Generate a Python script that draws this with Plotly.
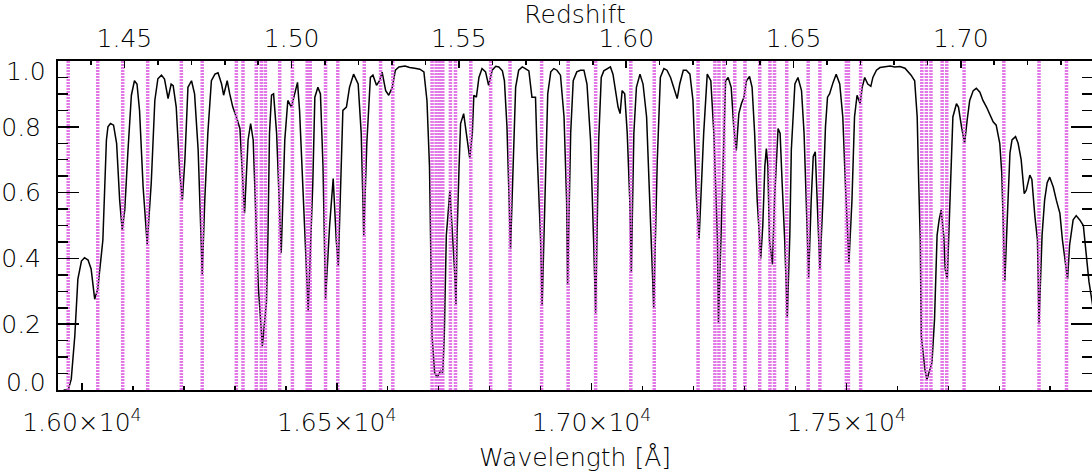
import plotly.graph_objects as go

HALPHA = 6564.61  # rest wavelength used for the redshift axis
LAM_MIN, LAM_MAX = 15953, 17982

wave = [15964, 15973, 15979, 15986, 15992, 15999, 16005, 16012, 16018, 16025, 16031, 16035,
        16041, 16048, 16051, 16056, 16062, 16068, 16074, 16079, 16084, 16090, 16097, 16103,
        16108, 16113, 16120, 16128, 16136, 16143, 16149, 16156, 16159, 16162, 16169, 16175,
        16179, 16185, 16192, 16197, 16202, 16208, 16215, 16221, 16228, 16236, 16241, 16247,
        16254, 16261, 16267, 16274, 16278, 16285, 16290, 16296, 16303, 16310, 16314, 16319,
        16326, 16331, 16336, 16342, 16346, 16354, 16362, 16365, 16368, 16372, 16376, 16382,
        16387, 16391, 16398, 16404, 16411, 16418, 16423, 16427, 16434, 16444, 16453, 16457,
        16463, 16468, 16473, 16478, 16486, 16493, 16499, 16503, 16512, 16519, 16525, 16533,
        16542, 16548, 16553, 16559, 16566, 16571, 16578, 16584, 16589, 16596, 16602, 16609,
        16615, 16622, 16634, 16643, 16653, 16663, 16671, 16677, 16682, 16684, 16687, 16692,
        16697, 16704, 16708, 16711, 16715, 16718, 16722, 16725, 16728, 16731, 16734, 16736,
        16740, 16743, 16749, 16756, 16761, 16766, 16769, 16774, 16779, 16785, 16792, 16798,
        16805, 16812, 16818, 16825, 16829, 16834, 16839, 16841, 16844, 16848, 16851, 16857,
        16864, 16870, 16877, 16883, 16890, 16893, 16900, 16903, 16910, 16914, 16920, 16926,
        16932, 16939, 16946, 16951, 16953, 16959, 16964, 16971, 16978, 16985, 16991, 16998,
        17004, 17008, 17014, 17019, 17024, 17031, 17037, 17042, 17047, 17052, 17056, 17060,
        17065, 17070, 17075, 17078, 17083, 17088, 17095, 17101, 17108, 17114, 17122, 17129,
        17135, 17142, 17148, 17155, 17163, 17168, 17173, 17180, 17186, 17193, 17199, 17206,
        17211, 17215, 17220, 17227, 17234, 17240, 17247, 17249, 17256, 17263, 17268, 17274,
        17279, 17284, 17289, 17294, 17299, 17304, 17310, 17315, 17320, 17325, 17332, 17336,
        17340, 17343, 17346, 17349, 17355, 17359, 17366, 17370, 17374, 17379, 17384, 17389,
        17392, 17399, 17405, 17412, 17417, 17421, 17426, 17431, 17435, 17439, 17443, 17448,
        17454, 17459, 17463, 17467, 17474, 17480, 17487, 17493, 17498, 17502, 17505, 17511,
        17516, 17521, 17527, 17531, 17536, 17542, 17548, 17552, 17559, 17566, 17576, 17586,
        17595, 17605, 17615, 17627, 17634, 17639, 17642, 17645, 17647, 17654, 17658, 17664,
        17668, 17673, 17678, 17682, 17686, 17691, 17694, 17698, 17701, 17705, 17709, 17716,
        17720, 17726, 17732, 17737, 17742, 17749, 17755, 17762, 17768, 17775, 17781, 17788,
        17794, 17801, 17805, 17809, 17811, 17816, 17821, 17825, 17832, 17837, 17843, 17849,
        17853, 17860, 17864, 17870, 17875, 17878, 17884, 17889, 17894, 17899, 17906, 17912,
        17919, 17924, 17929, 17934, 17938, 17945, 17951, 17958, 17965, 17970, 17976, 17984]

trans = [0.00, 0.00, 0.033, 0.165, 0.337, 0.392, 0.402, 0.395, 0.368, 0.276, 0.307, 0.368,
         0.455, 0.76, 0.80, 0.81, 0.805, 0.75, 0.577, 0.486, 0.547, 0.72, 0.896, 0.94,
         0.93, 0.85, 0.618, 0.443, 0.63, 0.88, 0.946, 0.957, 0.95, 0.945, 0.886, 0.93,
         0.925, 0.86, 0.658, 0.577, 0.70, 0.92, 0.94, 0.90, 0.73, 0.352, 0.577, 0.78,
         0.94, 0.96, 0.964, 0.93, 0.896, 0.94, 0.90, 0.86, 0.83, 0.795, 0.68, 0.537,
         0.76, 0.81, 0.76, 0.456, 0.316, 0.134, 0.266, 0.468, 0.78, 0.896, 0.90, 0.78,
         0.577, 0.417, 0.76, 0.88, 0.86, 0.91, 0.935, 0.85, 0.60, 0.24, 0.63, 0.89,
         0.92, 0.90, 0.68, 0.277, 0.50, 0.643, 0.456, 0.377, 0.85, 0.86, 0.92, 0.96,
         0.93, 0.78, 0.47, 0.75, 0.95, 0.957, 0.926, 0.94, 0.966, 0.91, 0.896, 0.92,
         0.972, 0.982, 0.985, 0.98, 0.978, 0.975, 0.967, 0.88, 0.678, 0.456, 0.165, 0.053,
         0.038, 0.059, 0.053, 0.165, 0.47, 0.527, 0.607, 0.527, 0.456, 0.368, 0.261, 0.47,
         0.678, 0.81, 0.84, 0.75, 0.704, 0.78, 0.896, 0.89, 0.95, 0.977, 0.967, 0.926,
         0.972, 0.984, 0.982, 0.97, 0.94, 0.80, 0.577, 0.428, 0.577, 0.78, 0.92, 0.972,
         0.982, 0.977, 0.97, 0.89, 0.89, 0.73, 0.456, 0.256, 0.678, 0.90, 0.967, 0.977,
         0.972, 0.957, 0.83, 0.577, 0.32, 0.78, 0.94, 0.967, 0.972, 0.972, 0.93, 0.76,
         0.456, 0.235, 0.76, 0.95, 0.97, 0.977, 0.982, 0.96, 0.91, 0.86, 0.84, 0.91,
         0.90, 0.78, 0.577, 0.357, 0.78, 0.92, 0.96, 0.93, 0.83, 0.577, 0.25, 0.70,
         0.95, 0.977, 0.972, 0.95, 0.91, 0.886, 0.93, 0.972, 0.972, 0.96, 0.88, 0.577,
         0.46, 0.60, 0.78, 0.96, 0.94, 0.78, 0.456, 0.205, 0.577, 0.94, 0.95, 0.92,
         0.80, 0.728, 0.84, 0.87, 0.89, 0.94, 0.953, 0.92, 0.78, 0.577, 0.40, 0.50,
         0.68, 0.734, 0.68, 0.456, 0.382, 0.577, 0.795, 0.78, 0.628, 0.456, 0.22, 0.47,
         0.73, 0.93, 0.95, 0.91, 0.78, 0.577, 0.342, 0.577, 0.71, 0.724, 0.577, 0.367,
         0.577, 0.80, 0.89, 0.90, 0.935, 0.96, 0.93, 0.83, 0.63, 0.456, 0.387, 0.577,
         0.83, 0.896, 0.87, 0.92, 0.95, 0.93, 0.923, 0.95, 0.972, 0.98, 0.983, 0.985,
         0.982, 0.983, 0.978, 0.957, 0.94, 0.83, 0.63, 0.456, 0.165, 0.064, 0.031, 0.064,
         0.084, 0.215, 0.47, 0.517, 0.547, 0.47, 0.367, 0.337, 0.47, 0.678, 0.83, 0.87,
         0.86, 0.80, 0.75, 0.82, 0.88, 0.91, 0.917, 0.905, 0.88, 0.86, 0.84, 0.815,
         0.805, 0.75, 0.658, 0.456, 0.332, 0.53, 0.72, 0.76, 0.77, 0.75, 0.70, 0.597,
         0.607, 0.653, 0.64, 0.527, 0.456, 0.20, 0.47, 0.577, 0.63, 0.647, 0.617, 0.577,
         0.537, 0.456, 0.387, 0.337, 0.44, 0.517, 0.53, 0.517, 0.50, 0.42, 0.33, 0.25]

oh_lines = [15973, 16031, 16080, 16129, 16195, 16236, 16303, 16316, 16342, 16352, 16360,
            16388, 16413, 16442, 16448, 16478, 16502, 16554, 16586, 16610, 16687, 16695,
            16702, 16708, 16723, 16733, 16763, 16802, 16840, 16902, 16954, 17008, 17077,
            17123, 17209, 17242, 17250, 17260, 17281, 17301, 17330, 17350, 17359, 17383,
            17425, 17448, 17500, 17504, 17528, 17648, 17657, 17666, 17688, 17697, 17731,
            17809, 17878, 17932]

wave_ticks = [16000, 16500, 17000, 17500]
wave_ticktext = ["1.60×10<sup>4</sup>", "1.65×10<sup>4</sup>",
                 "1.70×10<sup>4</sup>", "1.75×10<sup>4</sup>"]
y_ticks = [0.2, 0.4, 0.6, 0.8]
y_ticktext = ["0.2", "0.4", "0.6", "0.8"]

FONT = "DejaVu Sans"
BLACK = "#000000"
MAGENTA = "rgb(222,96,228)"

fig = go.Figure()

fig.add_trace(go.Scatter(x=wave, y=trans, mode="lines",
                         line=dict(color=BLACK, width=1.5),
                         showlegend=False, hoverinfo="skip"))

lx, ly = [], []
for lam in oh_lines:
    lx += [lam, lam, None]
    ly += [0.0, 1.0, None]
fig.add_trace(go.Scatter(x=lx, y=ly, mode="lines", xaxis="x", yaxis="y2",
                         line=dict(color=MAGENTA, width=3.5, dash="2px,1px"),
                         opacity=0.85, showlegend=False, hoverinfo="skip"))

# empty trace to attach the top (redshift) axis
fig.add_trace(go.Scatter(x=[], y=[], xaxis="x2", yaxis="y", showlegend=False))

tick_font = dict(family=FONT, size=25, color=BLACK, weight=200)

fig.update_layout(
    width=1092, height=476,
    margin=dict(l=58, r=0, t=61, b=86),
    paper_bgcolor="white", plot_bgcolor="white",
    font=dict(family=FONT, size=25, color=BLACK, weight=200),
    hovermode=False,
    xaxis=dict(
        range=[LAM_MIN, LAM_MAX], tickvals=wave_ticks, ticktext=wave_ticktext,
        ticks="inside", ticklen=7, tickwidth=1.5, tickcolor=BLACK,
        minor=dict(dtick=100, tick0=16000, ticks="inside", ticklen=4, tickwidth=1.5, tickcolor=BLACK),
        showline=True, linecolor=BLACK, linewidth=2, showgrid=False, zeroline=False,
        tickfont=tick_font, ticklabelstandoff=9,
        title=dict(text="Wavelength [Å]", font=tick_font, standoff=12),
    ),
    xaxis2=dict(
        overlaying="x", side="top", anchor="y",
        range=[LAM_MIN / HALPHA - 1, LAM_MAX / HALPHA - 1],
        tick0=1.45, dtick=0.05, tickformat=".2f",
        ticks="inside", ticklen=7, tickwidth=1.5, tickcolor=BLACK,
        minor=dict(dtick=0.01, ticks="inside", ticklen=4, tickwidth=1.5, tickcolor=BLACK),
        showline=True, linecolor=BLACK, linewidth=2, showgrid=False, zeroline=False,
        tickfont=tick_font, ticklabelstandoff=2,
        title=dict(text="Redshift", font=tick_font, standoff=0),
    ),
    yaxis=dict(
        range=[0, 1.0], tickvals=y_ticks, ticktext=y_ticktext,
        ticks="inside", ticklen=21, tickwidth=1.5, tickcolor=BLACK,
        minor=dict(dtick=0.05, tick0=0, ticks="inside", ticklen=10, tickwidth=1.5, tickcolor=BLACK),
        showline=True, linecolor=BLACK, linewidth=2, showgrid=False, zeroline=False,
        tickfont=tick_font, ticklabelstandoff=10,
    ),
    yaxis2=dict(
        overlaying="y", side="right", anchor="x", range=[0, 1.0],
        tickvals=y_ticks, showticklabels=False,
        ticks="inside", ticklen=21, tickwidth=1.5, tickcolor=BLACK,
        minor=dict(dtick=0.05, tick0=0, ticks="inside", ticklen=10, tickwidth=1.5, tickcolor=BLACK),
        showline=False, showgrid=False, zeroline=False,
    ),
)

fig.add_annotation(text="0.0", xref="paper", yref="y", x=0, y=0.0, xanchor="right",
                   yanchor="middle", xshift=-10, yshift=8, showarrow=False, font=tick_font)
fig.add_annotation(text="1.0", xref="paper", yref="y", x=0, y=1.0, xanchor="right",
                   yanchor="middle", xshift=-10, yshift=-10, showarrow=False, font=tick_font)

fig.write_html("out.html", config={"displayModeBar": False, "staticPlot": True},
               post_script="document.body.style.margin='0px';document.body.style.overflow='hidden';")
